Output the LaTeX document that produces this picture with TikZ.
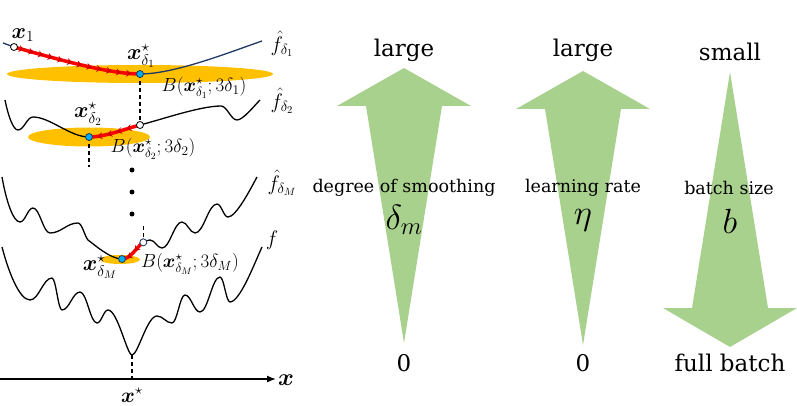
\RequirePackage{fix-cm}
\documentclass[tikz,border=0pt]{standalone}
\usepackage{amsmath}
\usepackage{bm}
\usepackage[no-math]{fontspec}
\setmainfont{DejaVu Serif}
\usetikzlibrary{arrows.meta,decorations.markings}
\definecolor{gold}{RGB}{255,192,0}
\definecolor{navy}{RGB}{31,56,100}
\definecolor{lgreen}{RGB}{169,209,142}
\definecolor{dotblue}{RGB}{0,176,240}
\begin{document}
\begin{tikzpicture}[x=1pt,y=-1pt,
  curve/.style={line width=1.3pt,line join=round},
  gdpath/.style={line width=3.5pt,red,postaction={decorate},
    decoration={markings,mark=between positions 0.08 and 0.97 step 10pt with {\arrow[red!80!black]{Stealth[length=5pt,width=7pt]}}}},
  vdash/.style={line width=1.2pt,dash pattern=on 4pt off 3pt},
  mindot/.style={circle,draw=navy,fill=dotblue,line width=0.8pt,inner sep=0pt,minimum size=7pt},
  startdot/.style={circle,draw=black,fill=white,line width=0.8pt,inner sep=0pt,minimum size=7pt},
  bigdot/.style={circle,fill=black,inner sep=0pt,minimum size=5pt},
  xlbl/.style={font=\fontsize{22}{24}\selectfont,inner sep=0pt},
  blbl/.style={font=\fontsize{19}{21}\selectfont,inner sep=0pt},
  flbl/.style={font=\fontsize{21}{23}\selectfont,inner sep=0pt},
  bigtxt/.style={font=\fontsize{23}{26}\selectfont,inner sep=0pt},
  midtxt/.style={font=\fontsize{17.5}{20}\selectfont,inner sep=0pt},
  bigmath/.style={font=\fontsize{35}{38}\selectfont,inner sep=0pt},
  garrow/.style={fill=lgreen}]
\useasboundingbox (0,0) rectangle (797,406);

% balls
\fill[gold] (140,74) ellipse [x radius=133, y radius=9];
\fill[gold] (89,137) ellipse [x radius=61, y radius=9.5];
\fill[gold] (120,259.5) ellipse [x radius=20, y radius=4.5];

% curve 1
\draw[curve,navy] (3,43) -- (14,47) .. controls (60,60) and (110,74) .. (140,74)
  .. controls (175,74) and (230,52) .. (262,41);
% curve 2
\draw[curve] (5,100) .. controls (8,115) and (13,130) .. (18,130)
  .. controls (24,130) and (27,117) .. (33,117)
  .. controls (50,117) and (70,137) .. (89,137)
  .. controls (105,137) and (125,129) .. (140,125)
  .. controls (160,120) and (200,106) .. (221,106)
  .. controls (227,106) and (231,120) .. (237,120)
  .. controls (243,120) and (254,106) .. (260,100);
% curve 3
\draw[curve] (2,177) .. controls (6,200) and (13,222) .. (20,222)
  .. controls (25.2,222) and (27.8,208) .. (33,208)
  .. controls (39.8,208) and (43.2,233) .. (50,233)
  .. controls (61.2,233) and (66.8,223) .. (78,223)
  .. controls (82,223) and (85,237) .. (88,240)
  .. controls (93,243.5) and (110,259) .. (122,259)
  .. controls (133.2,259) and (138.8,240) .. (150,240)
  .. controls (154.8,240) and (157.2,248) .. (162,248)
  .. controls (170,248) and (174,222) .. (182,222)
  .. controls (187.2,222) and (189.8,233) .. (195,233)
  .. controls (203.8,233) and (208.2,204) .. (217,204)
  .. controls (221.4,204) and (223.6,217) .. (228,217)
  .. controls (236,217) and (250,190) .. (257,177);
% curve 4
\draw[curve] (2,247) .. controls (8,270) and (19,300) .. (30,300)
  .. controls (38.8,300) and (43.2,278) .. (52,278)
  .. controls (56,278) and (58,310) .. (62,310)
  .. controls (69.2,310) and (72.8,292) .. (80,292)
  .. controls (86.8,292) and (90.2,323) .. (97,323)
  .. controls (101.4,323) and (103.6,310) .. (108,310)
  .. controls (117.6,310) and (127,355) .. (132,355)
  .. controls (138,355) and (147,316) .. (157,316)
  .. controls (163,316) and (166,323) .. (172,323)
  .. controls (177.2,323) and (179.8,295) .. (185,295)
  .. controls (191,295) and (194,312) .. (200,312)
  .. controls (208,312) and (212,277) .. (220,277)
  .. controls (224,277) and (226,302) .. (230,302)
  .. controls (240,302) and (255,262) .. (262,247);

% dashed connectors
\coordinate (m1) at (140,74);
\coordinate (s2) at (140,125);
\coordinate (m2) at (89,137);
\coordinate (m2b) at (89,167);
\coordinate (sMa) at (143.3,226);
\coordinate (sM) at (143.3,242.35);
\coordinate (mM) at (122,259);
\coordinate (xs) at (132,355);
\coordinate (xa) at (132,379);
\draw[vdash] (m1) -- (s2);
\draw[vdash] (m2) -- (m2b);
\draw[vdash] (sMa) -- (sM);
\draw[vdash] (xs) -- (xa);

% gradient paths
\draw[gdpath] (14,47) .. controls (60,60) and (110,74) .. (m1);
\draw[gdpath] (s2) .. controls (125,129) and (105,137) .. (m2);
\draw[gdpath] (sM) .. controls (136.07,247.44) and (130.74,259) .. (mM);

% dots
\node[startdot] (x1d) at (14,47) {};
\node[mindot] (m1d) at (m1) {};
\node[startdot] (s2d) at (s2) {};
\node[mindot] (m2d) at (m2) {};
\node[startdot,draw=navy] (sMd) at (sM) {};
\node[mindot] (mMd) at (mM) {};
\node[bigdot] (d1) at (132,170) {};
\node[bigdot] (d2) at (132,192) {};
\node[bigdot] (d3) at (132,214) {};

% axis
\coordinate (ax0) at (0,379);
\coordinate (ax1) at (276,379);
\draw[line width=1.3pt,-{Latex[length=9pt,width=7pt]}] (ax0) -- (ax1);

% left labels
\node[xlbl] (lx1) at (23,35) {$\bm{x}_1$};
\node[xlbl] (lm1) at (141,56) {$\bm{x}^\star_{\delta_1}$};
\node[blbl] (lb1) at (204,88) {$B(\bm{x}^\star_{\delta_1};3\delta_1)$};
\node[flbl] (lf1) at (282,44) {$\hat f_{\delta_1}$};
\node[xlbl] (lm2) at (88,114) {$\bm{x}^\star_{\delta_2}$};
\node[blbl] (lb2) at (153,149) {$B(\bm{x}^\star_{\delta_2};3\delta_2)$};
\node[flbl] (lf2) at (282,101) {$\hat f_{\delta_2}$};
\node[flbl] (lfM) at (282,183) {$\hat f_{\delta_M}$};
\node[flbl] (lf) at (272,240) {$f$};
\node[xlbl] (lmM) at (100,267) {$\bm{x}^\star_{\delta_M}$};
\node[blbl] (lbM) at (190,264) {$B(\bm{x}^\star_{\delta_M};3\delta_M)$};
\node[font=\fontsize{24}{26}\selectfont,inner sep=0pt] (lx) at (286,380) {$\bm{x}$};
\node[font=\fontsize{21}{23}\selectfont,inner sep=0pt] (lxs) at (132,395) {$\bm{x}^\star$};

% green arrows
\fill[garrow] (404,68) -- (471,106) -- (442,106) -- (404,343) -- (366,106) -- (337,106) -- cycle;
\fill[garrow] (583,71) -- (650,109) -- (621,109) -- (583,345) -- (545,109) -- (516,109) -- cycle;
\fill[garrow] (730,72) -- (768,308) -- (797,308) -- (730,347) -- (663,308) -- (692,308) -- cycle;

% right texts
\node[bigtxt] (t1a) at (404,50) {large};
\node[bigtxt] (t1b) at (404,363) {0};
\node[midtxt] (t1c) at (404,188) {degree of smoothing};
\node[bigmath] (t1d) at (404,220) {$\delta_m$};
\node[bigtxt] (t2a) at (583,50) {large};
\node[bigtxt] (t2b) at (583,363) {0};
\node[midtxt] (t2c) at (583,188) {learning rate};
\node[bigmath] (t2d) at (583,220) {$\eta$};
\node[bigtxt] (t3a) at (730,52) {small};
\node[bigtxt] (t3b) at (730,363) {full batch};
\node[midtxt] (t3c) at (729,188) {batch size};
\node[bigmath] (t3d) at (730,221) {$b$};
\end{tikzpicture}
\end{document}
